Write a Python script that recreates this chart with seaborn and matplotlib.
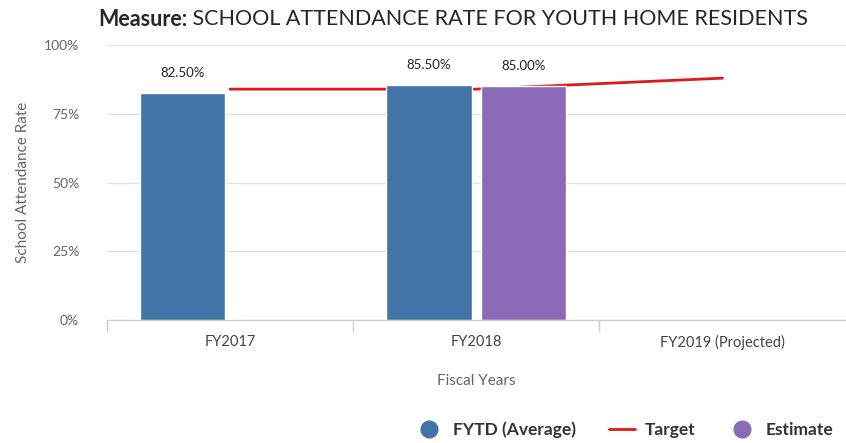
import numpy as np
import pandas as pd
import seaborn as sns
import matplotlib.pyplot as plt
from matplotlib.lines import Line2D

# Chart data
years = ['FY2017', 'FY2018', 'FY2019 (Projected)']
fytd_avg = [82.5, 85.5, np.nan]
estimate = [np.nan, 85.0, np.nan]
target = [84.0, 84.0, 88.0]

df = pd.DataFrame({
    'Year': years * 2,
    'Series': ['FYTD (Average)'] * 3 + ['Estimate'] * 3,
    'Value': fytd_avg + estimate,
})

blue = '#4374a8'
purple = '#8b6bb8'
red = '#e0181c'
grey = '#666666'

sns.set_style('white')
plt.rcParams['font.family'] = ['Lato', 'DejaVu Sans']

fig = plt.figure(figsize=(8.46, 4.43), dpi=100)
ax = fig.add_axes([0.1265, 0.278, 0.873, 0.62])

sns.barplot(data=df, x='Year', y='Value', hue='Series', order=years,
            hue_order=['FYTD (Average)', 'Estimate'],
            palette=[blue, purple], width=0.77, gap=0.1,
            saturation=1, legend=False, ax=ax)

# target line sits behind the bars
ax.plot(np.arange(len(years)), target, color=red, lw=2, zorder=0.9)

# value labels
for cont in ax.containers:
    labels = ['' if np.isnan(v) else f'{v:.2f}%' for v in cont.datavalues]
    ax.bar_label(cont, labels=labels, padding=10, fontsize=9.5, color='#222222')

ax.set_ylim(0, 100)
ax.set_xlim(-0.5, 2.5)
ax.set_yticks([0, 25, 50, 75, 100])
ax.set_yticklabels(['0%', '25%', '50%', '75%', '100%'], color=grey, fontsize=10)
ax.yaxis.grid(True, color='#e3e3e3', lw=1)
ax.set_axisbelow(True)
ax.tick_params(axis='y', length=0, pad=20)
ax.tick_params(axis='x', length=0, pad=11, labelsize=10.5, labelcolor='#444444')

# category separators below baseline
for b in [-0.5, 0.5, 1.5]:
    ax.plot([b, b], [0, -4], color='#cccccc', lw=1, clip_on=False)

for s in ['top', 'right', 'left']:
    ax.spines[s].set_visible(False)
ax.spines['bottom'].set_color('#cccccc')

ax.set_xlabel('Fiscal Years', color=grey, fontsize=11, labelpad=17)
ax.set_ylabel('School Attendance Rate', color=grey, fontsize=11, labelpad=10)

# title: bold "Measure:" followed by the regular text
fig.canvas.draw()
r = fig.canvas.get_renderer()
t1 = fig.text(0, 0.957, 'Measure:', fontsize=15.5, fontweight='bold', va='center')
t2 = fig.text(0, 0.957, ' SCHOOL ATTENDANCE RATE FOR YOUTH HOME RESIDENTS',
              fontsize=15.5, va='center')
w1 = t1.get_window_extent(r).width
w2 = t2.get_window_extent(r).width
x0 = (846 - (w1 + w2)) / 2 + 30
t1.set_x(x0 / 846)
t2.set_x((x0 + w1) / 846)

handles = [
    Line2D([], [], marker='o', ls='none', color=blue, markersize=12),
    Line2D([], [], color=red, lw=2),
    Line2D([], [], marker='o', ls='none', color=purple, markersize=12),
]
fig.legend(handles, ['FYTD (Average)', 'Target', 'Estimate'], ncol=3,
           loc='lower right', bbox_to_anchor=(1.003, -0.025), frameon=False,
           prop={'weight': 'bold', 'size': 12.5}, labelcolor='#333333',
           handlelength=1.5, columnspacing=1.9, handletextpad=0.6)

plt.savefig('out.png', dpi=100)
